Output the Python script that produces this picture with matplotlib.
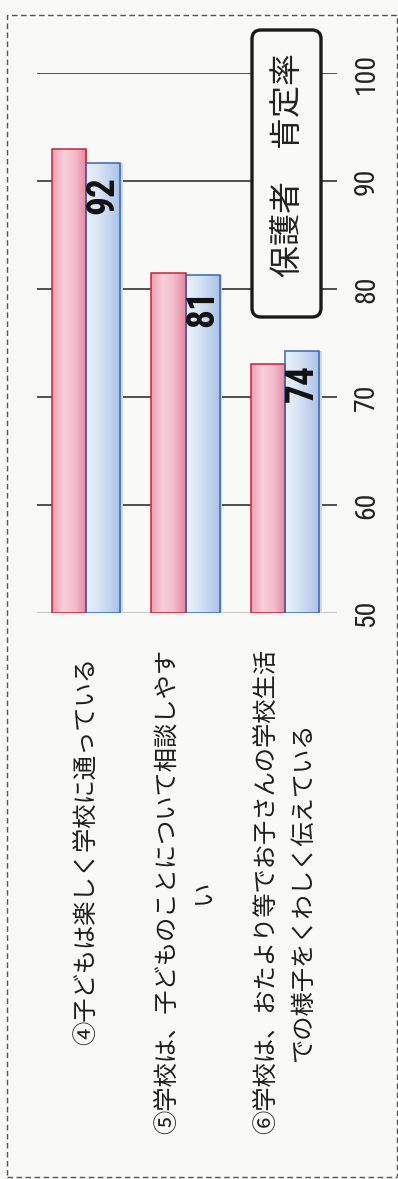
import numpy as np
import matplotlib
matplotlib.use("Agg")
import matplotlib.pyplot as plt
from matplotlib import font_manager
from matplotlib.colors import LinearSegmentedColormap
from matplotlib.patches import FancyBboxPatch, Rectangle
from matplotlib.transforms import IdentityTransform, blended_transform_factory

# --- data ---
categories = [
    "④子どもは楽しく学校に通っている",
    "⑤学校は、子どものことについて相談しやす\nい",
    "⑥学校は、おたより等でお子さんの学校生活\nでの様子をくわしく伝えている",
]
red_values = [93.0, 81.5, 73.1]
blue_values = [91.7, 81.3, 74.3]
blue_labels = ["92", "81", "74"]
yticks = [50, 60, 70, 80, 90, 100]
legend_text = "保護者　肯定率"


def pick_narrow_font():
    # look for a condensed / narrow face for the numbers
    fonts = font_manager.fontManager.ttflist
    names = {f.name for f in fonts}
    for n in ("Liberation Sans Narrow", "Roboto Condensed", "Open Sans Condensed",
              "Noto Sans Condensed", "DejaVu Sans Condensed"):
        if n in names:
            return n, "normal", True
    for f in fonts:
        if str(f.stretch) in ("condensed", "semi-condensed", "extra-condensed") \
                and "Mono" not in f.name and "Serif" not in f.name:
            return f.name, f.stretch, True
    for f in fonts:
        if "Narrow" in f.name or "Condensed" in f.name:
            return f.name, "normal", True
    return "DejaVu Sans", "normal", False


NUM_FONT, NUM_STRETCH, NARROW = pick_narrow_font()
JP_FONT = ["Noto Sans CJK JP", "DejaVu Sans"]
tick_fs = 20 if NARROW else 15
val_fs = 27 if NARROW else 21

W, H = 398, 1179
fig = plt.figure(figsize=(W / 100, H / 100), dpi=100)
paper = "#f9f9f8"
fig.patch.set_facecolor(paper)

# axes placed in pixel terms
left, right, top, bottom = 37, 337, 73, 613
ax = fig.add_axes([left / W, 1 - bottom / H, (right - left) / W, (bottom - top) / H])
ax.set_facecolor("none")
for s in ax.spines.values():
    s.set_visible(False)

x = np.arange(len(categories))
bw = 0.345

# gridlines
for v in yticks:
    ax.axhline(v, color="#c8c8c8" if v == 50 else "#222222",
               lw=1.4 if v == 50 else 1.1, zorder=0)

red_cmap = LinearSegmentedColormap.from_list("r", ["#ee9fb2", "#f6d0d9", "#f2bccb", "#e6869d"])
blue_cmap = LinearSegmentedColormap.from_list("b", ["#eaf0fa", "#dbe6f5", "#c3d4ef", "#a9c1e8"])
grad = np.linspace(0, 1, 64).reshape(1, -1)

# soft shadow to the right of each pair
ax.bar(x + bw / 2 + 0.025, np.array(blue_values) - 50, bw, bottom=50,
       color="#d6d6d6", lw=0, zorder=1)

red_bars = ax.bar(x - bw / 2, np.array(red_values) - 50, bw, bottom=50,
                  facecolor="none", edgecolor="#cc1f3a", lw=1.1, zorder=3)
blue_bars = ax.bar(x + bw / 2, np.array(blue_values) - 50, bw, bottom=50,
                   facecolor="none", edgecolor="#3266c4", lw=1.1, zorder=3)

for bars, cmap in ((red_bars, red_cmap), (blue_bars, blue_cmap)):
    for b in bars:
        bx, by = b.get_x(), b.get_y()
        im = ax.imshow(grad, cmap=cmap, aspect="auto", zorder=2,
                       extent=[bx, bx + b.get_width(), by, by + b.get_height()])
        im.set_clip_path(b)

for b, lab in zip(blue_bars, blue_labels):
    ax.annotate(lab, (b.get_x() + b.get_width() / 2, b.get_y() + b.get_height()),
                xytext=(0, -10), textcoords="offset points", rotation=90,
                ha="center", va="top", fontsize=val_fs, fontweight="bold",
                family=NUM_FONT, fontstretch=NUM_STRETCH, color="#111111", zorder=5)

ax.set_xlim(-0.495, 2.525)
ax.set_ylim(50, 100)
ax.set_xticks([])
ax.set_yticks(yticks)
ax.set_yticklabels([str(t) for t in yticks], rotation=90, va="center",
                   fontsize=tick_fs, family=NUM_FONT, fontstretch=NUM_STRETCH,
                   color="#222222")
ax.tick_params(axis="y", left=False, right=False, labelleft=False,
               labelright=True, pad=8)

# category labels below the plot
tr = blended_transform_factory(ax.transData, fig.transFigure)
label_y = [851, 892, 892]
for xi, cat, py in zip(x, categories, label_y):
    ax.text(xi, 1 - py / H, cat, transform=tr, rotation=90, ha="center",
            va="center", multialignment="center", fontsize=17.5,
            family=JP_FONT, linespacing=1.55, color="#1e1e1e")

# legend-like box
box = FancyBboxPatch((252, H - 317), 69, 287, boxstyle="round,pad=0,rounding_size=9",
                     transform=IdentityTransform(), facecolor=paper,
                     edgecolor="#1a1a1a", lw=2.4, zorder=6)
fig.add_artist(box)
fig.text(288 / W, 1 - 165 / H, legend_text, rotation=90, ha="center", va="center",
         fontsize=23, family=JP_FONT, color="#222222", zorder=7)

# dashed frame
frame = Rectangle((7, H - 1177), 390, 1162, transform=IdentityTransform(),
                  fill=False, edgecolor="#555555", lw=1.0, ls=(0, (4, 2.5)), zorder=8)
fig.add_artist(frame)

fig.savefig("out.png", dpi=100, facecolor=fig.get_facecolor())
